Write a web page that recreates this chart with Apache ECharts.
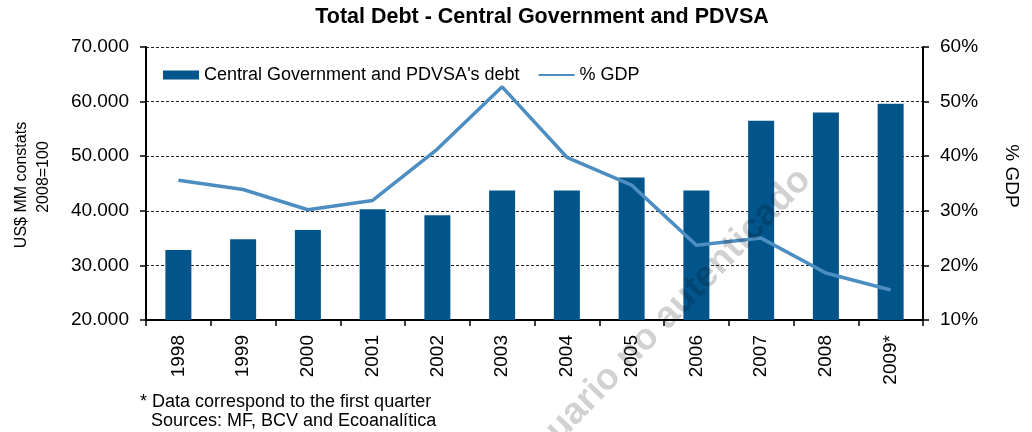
<!DOCTYPE html>
<html>
<head>
<meta charset="utf-8">
<script src="https://cdn.jsdelivr.net/npm/echarts@6/dist/echarts.min.js"></script>
<style>
  html, body { margin: 0; padding: 0; background: #ffffff; }
  #chart { width: 1032px; height: 432px; }
</style>
</head>
<body>
<div id="chart"></div>
<script>
// ---- Data ----
const years = ['1998', '1999', '2000', '2001', '2002', '2003', '2004', '2005', '2006', '2007', '2008', '2009*'];
const debt = [32800, 34800, 36500, 40300, 39200, 43700, 43700, 46100, 43700, 56500, 58000, 59600];
const gdpPct = [35.6, 33.9, 30.2, 31.9, 41.3, 52.7, 39.8, 34.7, 23.7, 25.0, 18.6, 15.5];
const seriesNames = ["Central Government and PDVSA's debt", '% GDP'];
const titleText = 'Total Debt - Central Government and PDVSA';
const leftAxisName = ['US$ MM constats', '2008=100'];
const rightAxisName = '% GDP';
const footnotes = ['* Data correspond to the first quarter', ' Sources: MF, BCV and Ecoanalítica'];
const watermark = 'Usuario no autenticado';

const FONT = 'Arial, "Liberation Sans", sans-serif';
const BAR_COLOR = '#02558B';
const LINE_COLOR = '#4D8EC2';

const chart = echarts.init(document.getElementById('chart'), null, { renderer: 'canvas' });

const gridLine = { show: true, lineStyle: { color: '#222', width: 1, type: [3, 2] } };

chart.setOption({
  animation: false,
  backgroundColor: '#ffffff',
  grid: { left: 146, right: 109, top: 47, bottom: 112, containLabel: false },
  legend: {
    left: 158, top: 61,
    itemWidth: 36, itemHeight: 9, itemGap: 18,
    textStyle: { fontFamily: FONT, fontSize: 18, color: '#000' },
    data: [
      { name: seriesNames[0], icon: 'rect' },
      { name: seriesNames[1], itemStyle: { opacity: 0 } }
    ]
  },
  xAxis: {
    type: 'category',
    data: years,
    axisLine: { show: true, lineStyle: { color: '#000', width: 2 } },
    axisTick: { show: true, length: 6, alignWithLabel: false, lineStyle: { color: '#000', width: 1.5 } },
    axisLabel: { rotate: 90, margin: 15, fontFamily: FONT, fontSize: 19, color: '#000', interval: 0 },
    splitLine: { show: false }
  },
  yAxis: [
    {
      type: 'value', min: 20000, max: 70000, interval: 10000, position: 'left',
      axisLine: { show: true, lineStyle: { color: '#000', width: 2 } },
      axisTick: { show: true, length: 6, lineStyle: { color: '#000', width: 1.5 } },
      axisLabel: {
        margin: 17, fontFamily: FONT, fontSize: 19, color: '#000',
        formatter: v => (v / 1000).toFixed(3)
      },
      splitLine: gridLine
    },
    {
      type: 'value', min: 10, max: 60, interval: 10, position: 'right',
      axisLine: { show: true, lineStyle: { color: '#000', width: 2 } },
      axisTick: { show: true, length: 6, lineStyle: { color: '#000', width: 1.5 } },
      axisLabel: { margin: 17, fontFamily: FONT, fontSize: 19, color: '#000', formatter: '{value}%' },
      splitLine: { show: false }
    }
  ],
  series: [
    {
      name: seriesNames[0], type: 'bar', yAxisIndex: 0, data: debt,
      barWidth: 26,
      itemStyle: { color: BAR_COLOR },
      z: 2
    },
    {
      name: seriesNames[1], type: 'line', yAxisIndex: 1, data: gdpPct,
      symbol: 'none', showSymbol: false,
      lineStyle: { color: LINE_COLOR, width: 3.5 },
      itemStyle: { color: LINE_COLOR },
      z: 3
    }
  ],
  graphic: [
    {
      type: 'text', x: 542, y: 17, z: 10,
      style: { text: titleText, font: 'bold 21.5px ' + FONT, fill: '#000', align: 'center', verticalAlign: 'middle' }
    },
    {
      type: 'text', x: 22, y: 185, rotation: Math.PI / 2, z: 10,
      style: { text: leftAxisName[0], font: '16px ' + FONT, fill: '#000', align: 'center', verticalAlign: 'middle' }
    },
    {
      type: 'text', x: 44, y: 177, rotation: Math.PI / 2, z: 10,
      style: { text: leftAxisName[1], font: '16px ' + FONT, fill: '#000', align: 'center', verticalAlign: 'middle' }
    },
    {
      type: 'text', x: 1011, y: 176, rotation: -Math.PI / 2, z: 10,
      style: { text: rightAxisName, font: '19px ' + FONT, fill: '#000', align: 'center', verticalAlign: 'middle' }
    },
    {
      type: 'text', x: 140, y: 402, z: 10,
      style: { text: footnotes[0], font: '18px ' + FONT, fill: '#000', align: 'left', verticalAlign: 'middle' }
    },
    {
      type: 'text', x: 146, y: 421, z: 10,
      style: { text: footnotes[1], font: '18px ' + FONT, fill: '#000', align: 'left', verticalAlign: 'middle' }
    },
    {
      type: 'text', x: 662, y: 322, rotation: 46 * Math.PI / 180, z: 100,
      style: { text: watermark, font: 'bold 37px ' + FONT, fill: 'rgba(0,0,0,0.18)', align: 'center', verticalAlign: 'middle' }
    }
  ]
});
</script>
</body>
</html>
